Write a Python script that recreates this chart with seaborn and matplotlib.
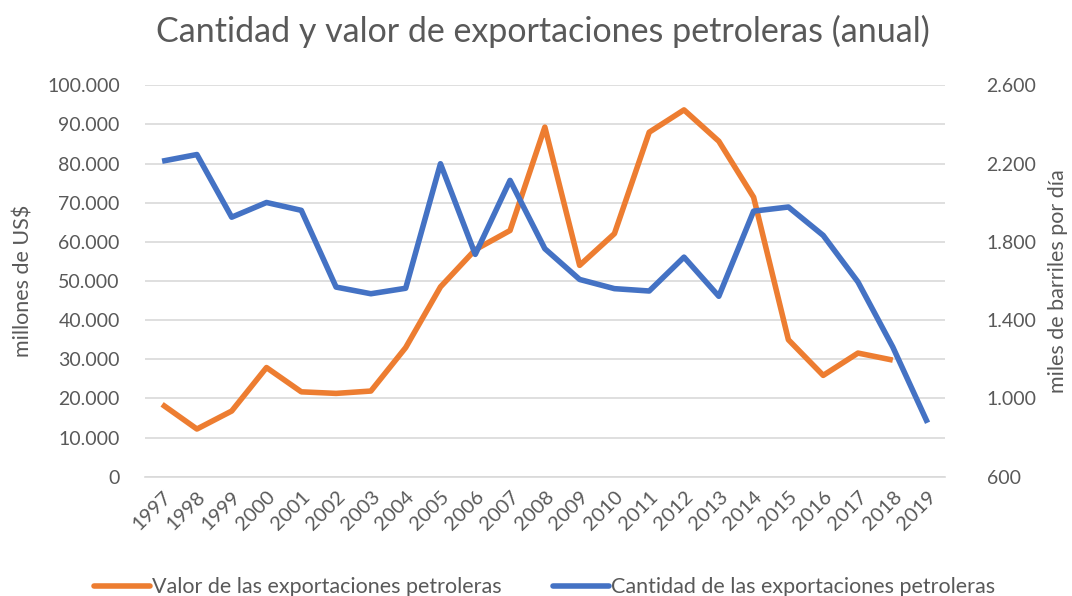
import matplotlib
matplotlib.use("Agg")
import matplotlib.pyplot as plt
import seaborn as sns
import pandas as pd
import numpy as np
from matplotlib.ticker import FuncFormatter, FixedLocator
from matplotlib.lines import Line2D

years = list(range(1997, 2020))
valor = [18500, 12200, 16800, 27900, 21700, 21300, 21900, 33000, 48500, 58000,
         62900, 89300, 54000, 62100, 88000, 93700, 85700, 71400, 35000, 25900,
         31600, 29800, np.nan]
cantidad = [2212, 2246, 1926, 2001, 1961, 1569, 1535, 1563, 2199, 1736,
            2114, 1765, 1608, 1561, 1549, 1722, 1522, 1957, 1978, 1833,
            1595, 1263, 876]

df = pd.DataFrame({"anio": years, "valor": valor, "cantidad": cantidad})

gris = "#595959"
naranja = "#ED7D31"
azul = "#4472C4"

sns.set_style("white")
plt.rcParams["font.family"] = ["Lato", "DejaVu Sans"]

fig = plt.figure(figsize=(10.72, 5.96), dpi=100)
ax = fig.add_axes([0.135, 0.2, 0.7465, 0.657])
ax2 = ax.twinx()

sns.lineplot(data=df, x="anio", y="valor", ax=ax, color=naranja, linewidth=4,
             solid_capstyle="butt")
sns.lineplot(data=df, x="anio", y="cantidad", ax=ax2, color=azul, linewidth=4,
             solid_capstyle="butt")

ax.set_xlim(1996.5, 2019.5)
ax.set_ylim(0, 100000)
ax2.set_ylim(600, 2600)
ax.set_yticks(np.arange(0, 100001, 10000))
ax2.set_yticks(np.arange(600, 2601, 400))

fmt = FuncFormatter(lambda v, p: f"{int(v):,}".replace(",", "."))
ax.yaxis.set_major_formatter(fmt)
ax2.yaxis.set_major_formatter(fmt)

ax.grid(axis="y", color="#d9d9d9", linewidth=1.2)
ax.set_axisbelow(True)

ax.set_xticks(years)
ax.set_xticklabels([str(y) for y in years], rotation=45, ha="right",
                   rotation_mode="anchor", fontsize=14.5, color=gris)
ax.xaxis.set_minor_locator(FixedLocator(np.arange(1996.5, 2020, 1)))
ax.tick_params(axis="x", which="major", length=0, pad=8)
ax.tick_params(axis="x", which="minor", length=6, color="#d9d9d9", width=1.2)
ax.tick_params(axis="y", length=0, labelsize=14, labelcolor=gris, pad=18)
ax2.tick_params(axis="y", length=0, labelsize=14, labelcolor=gris, pad=30)

for s in ["top", "left", "right"]:
    ax.spines[s].set_visible(False)
    ax2.spines[s].set_visible(False)
ax.spines["bottom"].set_color("#d9d9d9")
ax.spines["bottom"].set_linewidth(1.2)
ax2.spines["bottom"].set_visible(False)

ax.set_xlabel("")
ax.set_ylabel("millones de US$", fontsize=15.5, color=gris, labelpad=10)
ax2.set_ylabel("miles de barriles por día", fontsize=15.5, color=gris, labelpad=8)

fig.suptitle("Cantidad y valor de exportaciones petroleras (anual)",
             fontsize=24.5, color=gris, x=0.506, y=0.975)

handles = [Line2D([0], [0], color=naranja, lw=4),
           Line2D([0], [0], color=azul, lw=4)]
fig.legend(handles, ["Valor de las exportaciones petroleras",
                     "Cantidad de las exportaciones petroleras"],
           loc="center", bbox_to_anchor=(0.508, 0.015), ncol=2, frameon=False,
           fontsize=15.5, labelcolor=gris, handlelength=2.6, handletextpad=0.1,
           columnspacing=2.4)

fig.savefig("out.png", dpi=100)
